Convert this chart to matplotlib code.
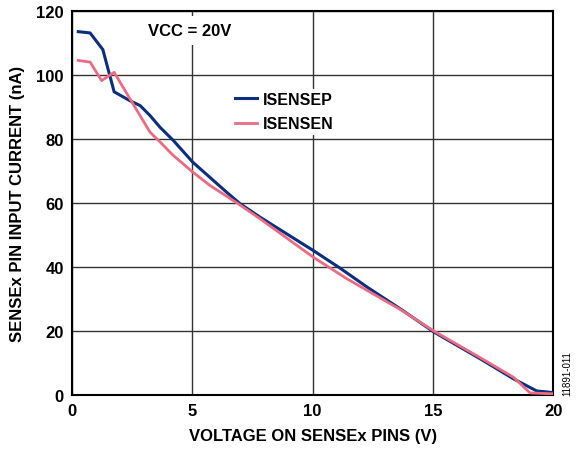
import matplotlib
matplotlib.use("Agg")
import matplotlib.pyplot as plt

plt.rcParams['font.family'] = ['Liberation Sans', 'DejaVu Sans']
plt.rcParams['font.weight'] = 'bold'

# ISENSEP
xp = [0.26, 0.75, 1.28, 1.75, 2.41, 2.83, 3.24, 3.66, 4.21, 5.02, 6.43, 6.99, 7.82, 10.03, 11.14, 12.3, 13.64, 15.05, 16.97, 18.35, 19.32, 20.0]
yp = [113.5, 113.1, 107.9, 94.7, 91.9, 90.4, 87.3, 83.6, 79.5, 72.7, 63.3, 59.7, 55.5, 45.1, 39.6, 33.5, 26.9, 19.6, 11.25, 5.0, 1.2, 0.7]
# ISENSEN
xn = [0.26, 0.75, 1.23, 1.75, 2.41, 3.24, 3.66, 4.21, 5.02, 5.74, 6.85, 7.82, 10.03, 11.42, 13.64, 15.05, 16.97, 18.35, 19.04, 20.0]
yn = [104.5, 104.0, 98.2, 100.8, 92.5, 82.1, 79.0, 74.8, 69.6, 65.4, 60.0, 55.0, 43.0, 36.3, 26.7, 19.9, 11.6, 5.5, 0.6, 0.3]

xticks = [0, 5, 10, 15, 20]
yticks = [0, 20, 40, 60, 80, 100, 120]

fig = plt.figure(figsize=(5.81, 4.56), dpi=100)
ax = fig.add_axes([0.124, 0.132, 0.828, 0.842])

ax.plot(xp, yp, color='#0b2e7e', lw=2.2, label='ISENSEP', zorder=3)
ax.plot(xn, yn, color='#ec6b82', lw=2.0, label='ISENSEN', zorder=3)

ax.set_xlim(0, 20)
ax.set_ylim(0, 120)
ax.set_xticks(xticks)
ax.set_yticks(yticks)
ax.grid(True, color='#333333', lw=1.0)
ax.tick_params(length=0, labelsize=12, pad=6)
for s in ax.spines.values():
    s.set_linewidth(1.5)
    s.set_color('black')

ax.set_xlabel('VOLTAGE ON SENSEx PINS (V)', fontsize=12, fontweight='bold', labelpad=7)
ax.set_ylabel('SENSEx PIN INPUT CURRENT (nA)', fontsize=12, fontweight='bold', labelpad=8)

ax.text(4.9, 114, 'VCC = 20V', fontsize=12, fontweight='bold', ha='center', va='center',
        bbox=dict(facecolor='white', edgecolor='none', pad=5), zorder=4)

leg = ax.legend(loc='upper left', bbox_to_anchor=(0.315, 0.818), frameon=True, fontsize=11.5,
                handlelength=1.4, handletextpad=0.35, labelspacing=0.6, borderpad=0.2,
                fancybox=False, edgecolor='none', framealpha=1)
leg.set_zorder(5)

fig.text(0.976, 0.18, '11891-011', rotation=90, fontsize=7, fontweight='normal', ha='center', va='center')

fig.savefig('out.png', dpi=100)
